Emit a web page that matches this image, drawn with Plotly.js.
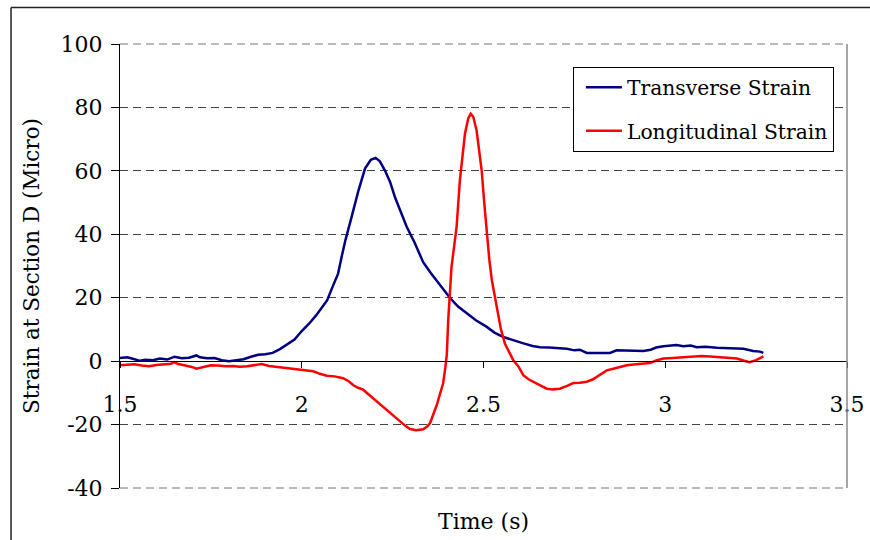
<!DOCTYPE html>
<html>
<head>
<meta charset="utf-8">
<script src="https://cdn.plot.ly/plotly-3.0.1.min.js"></script>
<style>html,body{margin:0;padding:0;background:#fff;}#chart{width:870px;height:540px;}</style>
</head>
<body>
<div id="chart"></div>
<script>
var transTime = [1.50,1.52,1.54,1.555,1.57,1.59,1.61,1.63,1.65,1.67,1.69,1.71,1.72,1.74,1.76,1.78,1.80,1.82,1.84,1.86,1.88,1.90,1.92,1.94,1.96,1.98,2.00,2.02,2.04,2.06,2.07,2.085,2.10,2.11,2.12,2.137,2.156,2.174,2.19,2.203,2.215,2.229,2.243,2.257,2.27,2.289,2.31,2.334,2.355,2.371,2.39,2.408,2.43,2.454,2.48,2.509,2.53,2.555,2.58,2.61,2.635,2.655,2.68,2.705,2.729,2.75,2.765,2.784,2.80,2.82,2.848,2.866,2.89,2.915,2.94,2.96,2.975,2.995,3.01,3.031,3.05,3.07,3.087,3.11,3.142,3.17,3.195,3.215,3.242,3.26,3.27];
var transStrain = [1.0,1.2,0.6,0.1,0.4,0.3,0.8,0.5,1.4,0.9,1.1,1.8,1.2,0.9,1.0,0.3,0.0,0.2,0.6,1.4,2.0,2.2,2.6,3.8,5.2,6.8,9.5,11.8,14.5,17.5,19.2,23.5,27.6,33,38.1,45.4,53.8,60.7,63.5,64.1,63.0,60.1,56.5,51.5,47.8,42.3,37.5,31.2,27.8,25.5,22.8,19.9,17.2,15.0,12.8,10.8,9.0,7.6,6.6,5.6,4.8,4.4,4.3,4.0,3.9,3.4,3.6,2.6,2.6,2.7,2.6,3.4,3.3,3.1,3.2,3.6,4.3,4.7,4.9,5.1,4.7,4.9,4.4,4.5,4.2,4.1,4.0,3.9,3.2,3.0,2.6];

var longTime = [1.50,1.52,1.54,1.56,1.58,1.60,1.62,1.64,1.65,1.66,1.68,1.70,1.71,1.73,1.75,1.77,1.79,1.81,1.83,1.85,1.87,1.89,1.91,1.93,1.95,1.97,1.99,2.01,2.032,2.05,2.069,2.09,2.114,2.13,2.142,2.155,2.169,2.185,2.197,2.215,2.234,2.25,2.27,2.285,2.298,2.315,2.334,2.345,2.353,2.362,2.371,2.38,2.389,2.395,2.399,2.403,2.412,2.426,2.435,2.449,2.458,2.465,2.472,2.481,2.488,2.495,2.502,2.509,2.516,2.523,2.536,2.548,2.559,2.57,2.582,2.595,2.61,2.625,2.646,2.66,2.674,2.69,2.71,2.73,2.747,2.765,2.784,2.80,2.811,2.825,2.839,2.86,2.875,2.894,2.92,2.94,2.958,2.975,2.995,3.02,3.05,3.08,3.10,3.124,3.15,3.175,3.197,3.215,3.232,3.25,3.27];
var longStrain = [-1.3,-1.1,-1.0,-1.4,-1.6,-1.2,-1.0,-0.8,-0.3,-0.9,-1.4,-1.9,-2.4,-1.8,-1.3,-1.4,-1.6,-1.5,-1.8,-1.6,-1.2,-0.9,-1.5,-1.8,-2.0,-2.4,-2.6,-3.0,-3.2,-4.0,-4.6,-4.8,-5.4,-6.4,-7.6,-8.4,-9.0,-10.6,-11.8,-13.4,-15.3,-17.0,-19.0,-20.4,-21.4,-21.8,-21.5,-20.6,-19.5,-17.0,-14.0,-10.5,-7.0,-2.0,2.0,13.0,29.7,42.3,57.0,71.7,76.5,78.0,77.0,72.7,67,60.1,50,40.2,32,25.5,17.0,10.0,5.5,3.0,0.3,-1.5,-4.5,-5.8,-7.1,-8.0,-8.7,-8.9,-8.7,-7.8,-6.9,-6.8,-6.5,-5.8,-5.0,-3.9,-2.9,-2.3,-1.8,-1.3,-1.0,-0.8,-0.6,0.2,0.8,1.0,1.3,1.4,1.6,1.5,1.3,1.1,0.8,0.2,-0.3,0.3,1.5];

var xTicks = [1.5,2,2.5,3,3.5];
var yTicks = [-40,-20,0,20,40,60,80,100];
var seriesNames = ['Transverse Strain','Longitudinal Strain'];

var serif = 'DejaVu Serif';
var fs = 22;

var traces = [
  {x: transTime, y: transStrain, name: seriesNames[0], type: 'scatter', mode: 'lines',
   line: {color: '#000080', width: 2.5}, legendgroup: 'a'},
  {x: longTime, y: longStrain, name: seriesNames[1], type: 'scatter', mode: 'lines',
   line: {color: '#FF0000', width: 2.5}, legendgroup: 'b'}
];

var gridStyle = {color: '#777', width: 1, dash: '8px,5px'};

var layout = {
  width: 870, height: 540,
  margin: {l: 120, r: 23, t: 44, b: 52, pad: 0},
  paper_bgcolor: '#fff', plot_bgcolor: '#fff',
  font: {family: serif, size: fs, color: '#000'},
  showlegend: true,
  legend: {
    x: 0.623, y: 0.949, xanchor: 'left', yanchor: 'top',
    bgcolor: '#fff', bordercolor: '#000', borderwidth: 1,
    font: {family: serif, size: 20.3, color: '#000'},
    traceorder: 'grouped', tracegroupgap: 14,
    itemwidth: 36, indentation: 7
  },
  xaxis: {
    range: [1.5, 3.5], tickvals: xTicks, ticktext: xTicks.map(String),
    anchor: 'free', position: 40/140,
    showline: true, linecolor: '#000', linewidth: 1,
    ticks: 'outside', ticklen: 6, tickcolor: '#000', tickwidth: 1,
    showgrid: false, zeroline: false,
    ticklabelstandoff: 17,
    tickfont: {family: serif, size: fs, color: '#000'}
  },
  yaxis: {
    range: [-40, 100], tickvals: yTicks, ticktext: yTicks.map(String),
    showline: true, linecolor: '#000', linewidth: 1,
    ticks: 'outside', ticklen: 8, tickcolor: '#000', tickwidth: 1,
    showgrid: true, gridcolor: '#444', gridwidth: 1, griddash: '8px,5px',
    zeroline: false,
    ticklabelstandoff: 4,
    tickfont: {family: serif, size: fs, color: '#000'},
    title: {text: 'Strain at Section D (Micro)', font: {family: serif, size: 21.5, color: '#000'}, standoff: 15}
  },
  annotations: [
    {text: 'Time (s)', xref: 'paper', yref: 'paper', x: 0.5, y: -0.075, xanchor: 'center', yanchor: 'middle',
     showarrow: false, font: {family: serif, size: fs, color: '#000'}}
  ],
  shapes: [
    {type: 'line', xref: 'paper', yref: 'paper', x0: 0, x1: 1, y0: 1, y1: 1, line: gridStyle, layer: 'below'},
    {type: 'line', xref: 'paper', yref: 'paper', x0: 0, x1: 1, y0: 0, y1: 0, line: gridStyle, layer: 'below'},
    {type: 'line', xref: 'paper', yref: 'paper', x0: 1, x1: 1, y0: 0, y1: 1, line: {color: '#888', width: 1.5}},
    {type: 'line', xref: 'paper', yref: 'paper', x0: -0.1499, x1: -0.1499, y0: -0.13, y1: 1.0822, line: {color: '#222', width: 1.5}},
    {type: 'line', xref: 'paper', yref: 'paper', x0: -0.1499, x1: 1.04, y0: 1.0822, y1: 1.0822, line: {color: '#222', width: 1.5}}
  ]
};

Plotly.newPlot('chart', traces, layout, {displayModeBar: false, staticPlot: true});
</script>
</body>
</html>
